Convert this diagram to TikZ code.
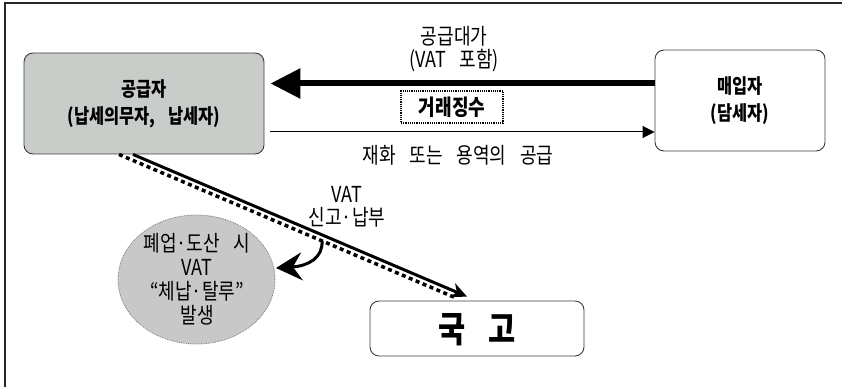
\documentclass[tikz,border=0pt]{standalone}
\usepackage{fontspec}
\setmainfont{Noto Sans CJK KR}[WordSpace=3.4, FakeStretch=0.82]
\usetikzlibrary{arrows.meta,shapes.geometric}
\definecolor{boxgray}{RGB}{201,205,201}
\definecolor{ellgray}{RGB}{200,200,200}
\definecolor{edgegray}{RGB}{60,60,60}
\tikzset{
  party/.style={draw=edgegray, line width=0.9pt, rounded corners=9pt, align=center, inner sep=0pt},
  lbl/.style={font=\fontsize{22}{23}\selectfont, align=center, inner sep=0pt},
  boldlbl/.style={font=\fontsize{20}{27}\selectfont\bfseries, align=center},
  bigarrow/.style={line width=6pt, -{Triangle[length=30pt,width=29pt]}},
  thinarrow/.style={line width=1pt, -{Triangle[length=12pt,width=12pt]}},
  vatline/.style={line width=3pt, -{Stealth[length=16pt,width=15pt,inset=5pt]}},
  dotline/.style={line width=3.5pt, dash pattern=on 4pt off 3.5pt},
  curvearrow/.style={line width=3pt, -{Stealth[length=26pt,width=28pt,inset=9pt]}},
}
\begin{document}
\begin{tikzpicture}[x=1pt,y=-1pt]
\useasboundingbox (0,0) rectangle (842,387);
% outer frame (top and left only)
\draw[line width=2pt, black!85] (842,3) -- (5,3) -- (5,387);
% parties
\node[party, fill=boxgray, minimum width=240pt, minimum height=101pt] (supplier) at (144,103.5) {};
\node[boldlbl] (suptext) at (supplier.center) {공급자\\(납세의무자, 납세자)};
\node[party, fill=white, minimum width=170pt, minimum height=101pt] (buyer) at (740,100.5) {};
\node[boldlbl] (buytext) at (buyer.center) {매입자\\(담세자)};
\node[party, fill=white, minimum width=214pt, minimum height=55pt] (gukgo) at (477,328.5) {};
\node[font=\fontsize{36}{36}\selectfont\bfseries, inner sep=0pt] (gukgotext) at (477,330) {국 고};
% ellipse
\node[ellipse, draw=edgegray!70, densely dotted, line width=0.8pt, fill=ellgray, minimum width=157pt, minimum height=129pt, inner sep=0pt] (ell) at (196.5,279.5) {};
\node[lbl, font=\fontsize{22}{24}\selectfont] (elltext) at (197,279) {폐업·도산 시\\VAT\\“체납·탈루”\\발생};
% top labels
\node[lbl] (price) at (454,49.5) {공급대가\\(VAT 포함)};
\node[draw, densely dotted, line width=1.2pt, minimum width=102pt, minimum height=32pt, inner sep=0pt, font=\fontsize{22}{22}\selectfont\bfseries] (collect) at (452,107) {거래징수};
\node[lbl] (supply) at (458,155) {재화 또는 용역의 공급};
\node[lbl] (vat) at (347,206.5) {VAT\\신고·납부};
% arrows
\path ([yshift=17pt]buyer.west) coordinate (b1);
\draw[bigarrow, shorten >=6pt] (b1) -- (b1 -| supplier.east);
\path ([yshift=-28.5pt]supplier.east) coordinate (s1);
\draw[thinarrow, shorten <=6pt] (s1) -- (s1 -| buyer.west);
% VAT diagonal lines
\path ([xshift=-11pt]supplier.south) coordinate (d1);
\path ([xshift=-10pt,yshift=4pt]gukgo.north) coordinate (d2);
\draw[vatline] (d1) -- (d2);
\path ([xshift=-25pt]supplier.south) coordinate (e1);
\path ([xshift=-22pt,yshift=3pt]gukgo.north) coordinate (e2);
\draw[dotline] (e1) -- (e2);
% curved arrow
\coordinate (c1) at (322,241);
\coordinate (c2) at (276,268);
\draw[curvearrow] (c1) .. controls (323,258) and (308,266) .. (c2);
\end{tikzpicture}
\end{document}
